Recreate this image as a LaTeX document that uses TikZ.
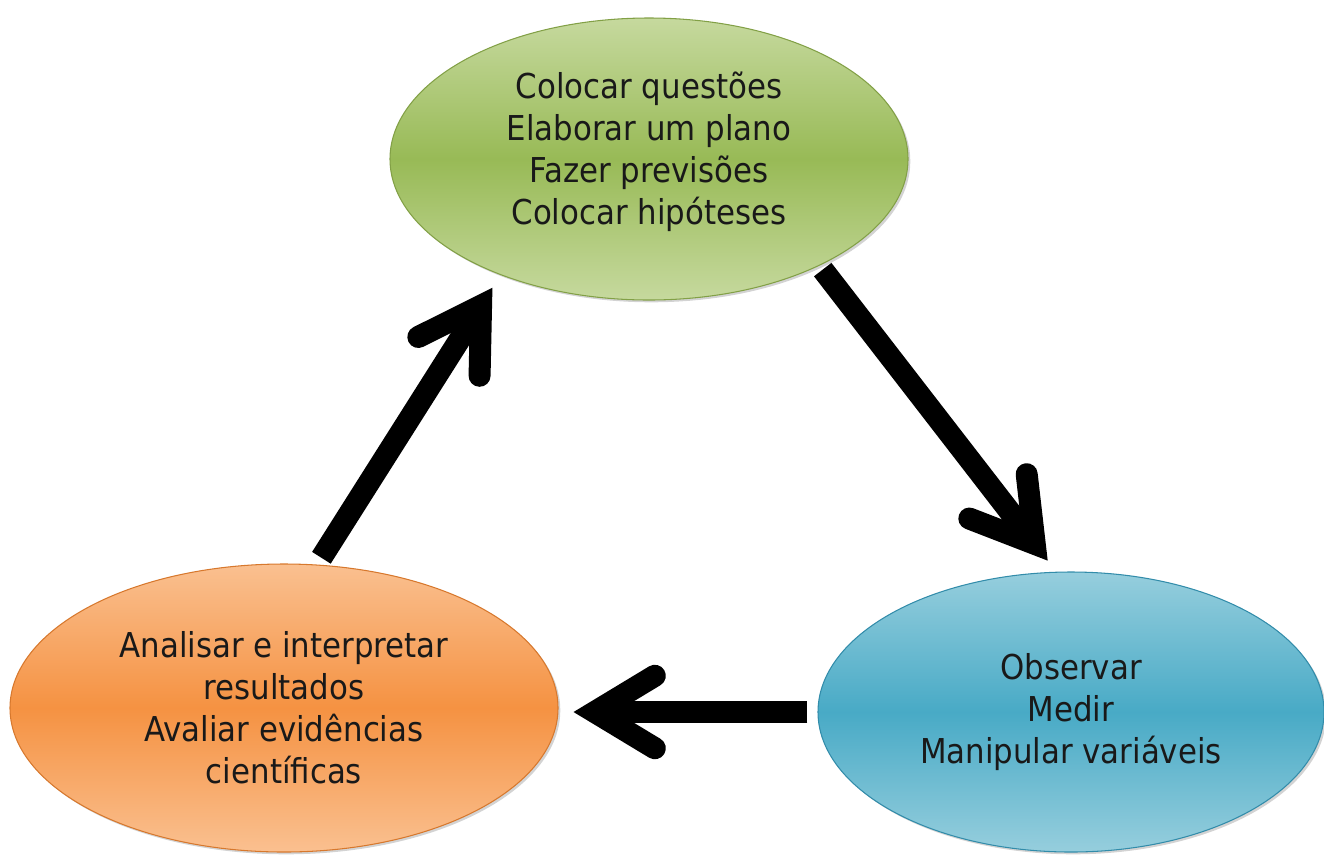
\documentclass[tikz,border=0pt]{standalone}
\usepackage{fontspec}
\setmainfont{DejaVu Sans Condensed}
\usepackage{xcolor}
\usepackage{tikz}
\usetikzlibrary{arrows.meta,positioning,shapes.geometric,shadows}

\definecolor{greenlight}{RGB}{198,217,158}
\definecolor{greenmid}{RGB}{152,186,86}
\definecolor{greenedge}{RGB}{130,160,70}
\definecolor{bluelight}{RGB}{150,206,221}
\definecolor{bluemid}{RGB}{72,170,198}
\definecolor{blueedge}{RGB}{50,140,170}
\definecolor{orangelight}{RGB}{250,192,144}
\definecolor{orangemid}{RGB}{245,146,66}
\definecolor{orangeedge}{RGB}{215,120,45}

\begin{document}
\begin{tikzpicture}[
  x=0.2mm, y=-0.2mm,
  stage/.style={ellipse, inner sep=0pt, align=center, text=black!90,
    font=\fontsize{19.5}{23.9}\selectfont, line width=0.6pt,
    drop shadow={shadow xshift=1.3pt, shadow yshift=-1.3pt, opacity=0.35}},
  plan/.style={stage, minimum width=10.36cm, minimum height=5.64cm,
    top color=greenlight, bottom color=greenlight, middle color=greenmid, draw=greenedge},
  observe/.style={stage, minimum width=10.12cm, minimum height=5.6cm,
    top color=bluelight, bottom color=bluelight, middle color=bluemid, draw=blueedge},
  analyse/.style={stage, minimum width=10.96cm, minimum height=5.76cm,
    top color=orangelight, bottom color=orangelight, middle color=orangemid, draw=orangeedge},
  flow/.style={line width=4.4mm,
    -{Straight Barb[length=12mm, width=14.5mm, line cap=round, line join=miter]}}
]
  \useasboundingbox (0,0) rectangle (1324,855);

  \node[plan, text depth=4.2mm] (plan) at (649,159)
    {Colocar questões\\Elaborar um plano\\Fazer previsões\\Colocar hipóteses};
  \node[observe] (observe) at (1071,712)
    {Observar\\Medir\\Manipular variáveis};
  \node[analyse] (analyse) at (284,708)
    {Analisar e interpretar\\resultados\\Avaliar evidências\\científicas};

  % cycle
  \draw[flow, shorten <=1mm, shorten >=2.8mm] (plan.-32) -- (observe.96);
  \draw[flow, shorten <=2mm, shorten >=3mm] (observe.west) -- (observe.west -| analyse.east);
  \draw[flow, shorten <=1.6mm, shorten >=3mm] (analyse.77) -- (plan.218);
\end{tikzpicture}
\end{document}
